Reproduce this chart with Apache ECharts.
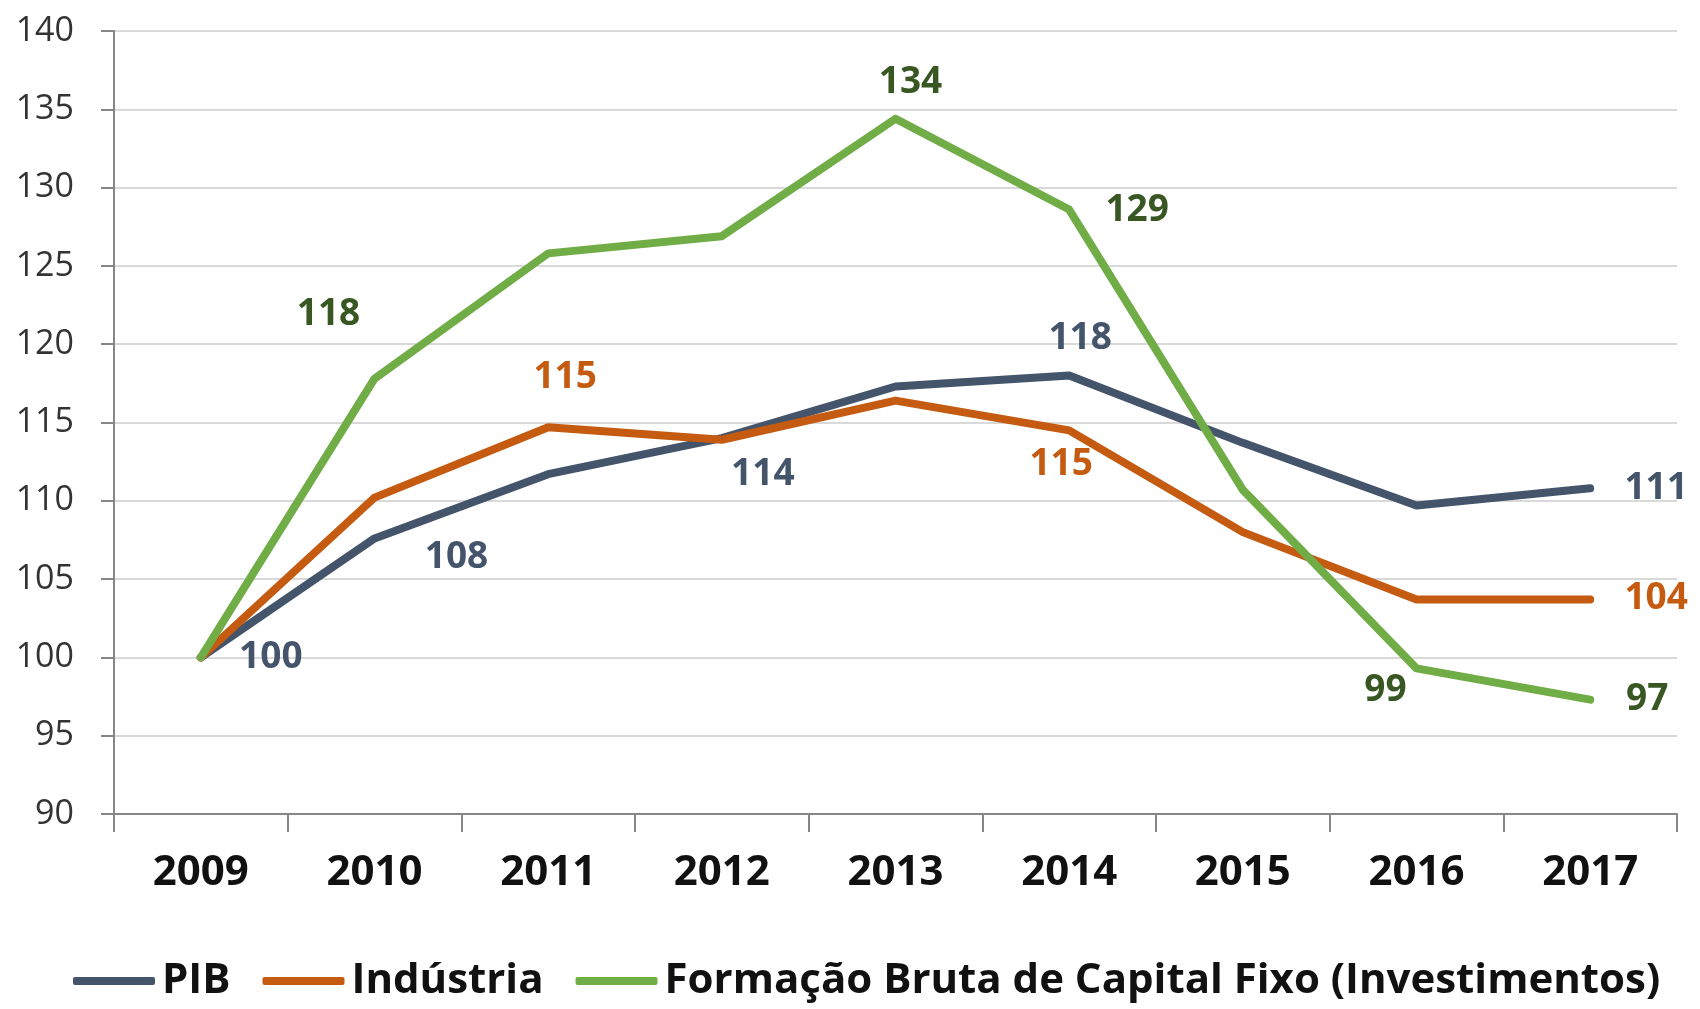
<!DOCTYPE html>
<html>
<head>
<meta charset="utf-8">
<script src="https://cdn.jsdelivr.net/npm/echarts@6/dist/echarts.min.js"></script>
<style>
  html, body { margin: 0; padding: 0; background: #fff; }
  #chart { width: 1700px; height: 1009px; }
</style>
</head>
<body>
<div id="chart"></div>
<script>
// anos
const years = ["2009", "2010", "2011", "2012", "2013", "2014", "2015", "2016", "2017"];
// índices (2009 = 100)
const pib = [100, 107.6, 111.7, 114.0, 117.3, 118.0, 113.7, 109.7, 110.8];
const industria = [100, 110.2, 114.7, 113.9, 116.4, 114.5, 108.0, 103.7, 103.7];
const fbcf = [100, 117.8, 125.8, 126.9, 134.4, 128.6, 110.7, 99.3, 97.3];
const seriesNames = ["PIB", "Indústria", "Formação Bruta de Capital Fixo (Investimentos)"];
const yTicks = { min: 90, max: 140, step: 5 };

// posição dos rótulos (índice -> deslocamento em px em relação ao ponto)
const pibLabels = { 0: [70, 0], 1: [82, 19], 3: [41, 36], 5: [11, -37], 8: [66, 0] };
const indLabels = { 2: [17, -50], 5: [-8, 34], 8: [66, -1] };
const fbcfLabels = { 1: [-46, -64], 4: [15, -36], 5: [68, 1], 7: [-31, 22], 8: [57, 0] };

const font = "'Open Sans', 'DejaVu Sans', sans-serif";

function buildData(values, labels, color) {
  return values.map((v, i) => {
    const off = labels[i];
    if (!off) return v;
    return {
      value: v,
      label: {
        show: true,
        position: "inside",
        align: "center",
        verticalAlign: "middle",
        offset: off,
        color: color,
        fontFamily: font,
        fontSize: 37,
        fontWeight: "bold",
        formatter: p => Math.round(p.value)
      }
    };
  });
}

function lineSeries(name, values, labels, color, labelColor) {
  return {
    name: name,
    type: "line",
    animation: false,
    symbol: "circle",
    symbolSize: 1,
    showSymbol: true,
    itemStyle: { color: color },
    lineStyle: { width: 8, color: color, cap: "round", join: "round" },
    label: { show: false },
    data: buildData(values, labels, labelColor)
  };
}

const chart = echarts.init(document.getElementById("chart"));
chart.setOption({
  backgroundColor: "#fff",
  grid: { left: 114, right: 23, top: 31, bottom: 195 },
  legend: {
    left: 68,
    top: 955,
    icon: "roundRect",
    itemWidth: 82,
    itemHeight: 8,
    itemGap: 32,
    textStyle: {
      fontFamily: font,
      fontSize: 42,
      fontWeight: "bold",
      color: "#111",
      padding: [0, 0, 0, 2]
    },
    data: seriesNames
  },
  xAxis: {
    type: "category",
    data: years,
    boundaryGap: true,
    axisLine: { lineStyle: { color: "#868686", width: 2 } },
    axisTick: { show: true, length: 18, lineStyle: { color: "#868686", width: 2 } },
    axisLabel: {
      margin: 38,
      fontFamily: font,
      fontSize: 42,
      fontWeight: "bold",
      color: "#111"
    },
    splitLine: { show: false }
  },
  yAxis: {
    type: "value",
    min: yTicks.min,
    max: yTicks.max,
    interval: yTicks.step,
    axisLine: { show: true, lineStyle: { color: "#868686", width: 2 } },
    axisTick: { show: true, length: 13, lineStyle: { color: "#868686", width: 2 } },
    axisLabel: {
      margin: 40,
      fontFamily: font,
      fontSize: 34,
      color: "#333"
    },
    splitLine: { lineStyle: { color: "#D9D9D9", width: 2 } }
  },
  series: [
    lineSeries(seriesNames[0], pib, pibLabels, "#44546A", "#44546A"),
    lineSeries(seriesNames[1], industria, indLabels, "#C55A11", "#C55A11"),
    lineSeries(seriesNames[2], fbcf, fbcfLabels, "#70AD47", "#385723")
  ]
});
</script>
</body>
</html>
